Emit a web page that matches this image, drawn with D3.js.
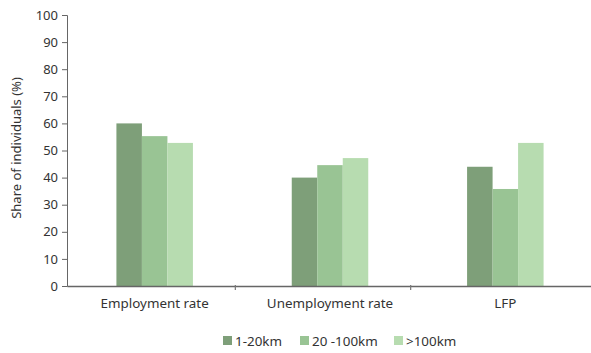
<!DOCTYPE html>
<html><head><meta charset="utf-8">
<script src="https://cdn.jsdelivr.net/npm/d3@7"></script>
<style>body{margin:0;background:#fff}text{font-family:"Source Sans Pro","Noto Sans","Open Sans",sans-serif;fill:#333}</style>
</head><body><svg id="c" width="591" height="353"></svg>
<script>
const categories = ["Employment rate", "Unemployment rate", "LFP"];
const seriesNames = ["1-20km", "20 -100km", ">100km"];
const near = [60, 40, 44];
const mid = [55.3, 44.6, 35.8];
const far = [52.8, 47.2, 52.8];
const yTicks = [0,10,20,30,40,50,60,70,80,90,100];
const colors = ["#7e9f79", "#99c494", "#b7dcb0"];
const series = [near, mid, far];

const svg = d3.select("#c");
const m = {l:67, r:-2, t:15, b:67};
const W = 591, H = 353;
const x = d3.scaleBand().domain(categories).range([m.l, W - m.r]);
const y = d3.scaleLinear().domain([0,100]).range([286, 15]);
const bw = 25.5;
const xs = d3.scaleBand().domain(seriesNames).range([-bw*1.5, bw*1.5]);

categories.forEach((c, i) => {
  series.forEach((s, j) => {
    svg.append("rect")
      .attr("x", x(c) + x.bandwidth()/2 + xs(seriesNames[j]))
      .attr("width", xs.bandwidth())
      .attr("y", y(s[i]))
      .attr("height", y(0) - y(s[i]))
      .attr("fill", colors[j]);
  });
});

const ya = svg.append("g").attr("transform", `translate(${m.l},0)`)
  .call(d3.axisLeft(y).tickValues(yTicks).tickSize(5).tickPadding(4));
ya.select(".domain").attr("stroke", "#666");
ya.selectAll(".tick line").attr("stroke", "#666");
ya.selectAll("text").style("font-size", "13px");

const xa = svg.append("g").attr("transform", `translate(0,${y(0)})`)
  .call(d3.axisBottom(x).tickSize(0).tickPadding(12));
xa.select(".domain").attr("stroke", "#666").attr("stroke-width", 1.5);
xa.selectAll("text").style("font-size", "13.4px");
categories.slice(1).forEach(c => {
  xa.append("line").attr("x1", x(c) - 7).attr("x2", x(c) - 7).attr("y1", -1).attr("y2", 4).attr("stroke", "#777").attr("stroke-width", 1.2);
});

svg.append("text").attr("transform", "translate(21,148) rotate(-90)")
  .attr("text-anchor", "middle").style("font-size", "13px").text("Share of individuals (%)");

const lx = [223, 300, 394];
seriesNames.forEach((n, j) => {
  svg.append("rect").attr("x", lx[j]).attr("y", 336).attr("width", 9).attr("height", 9).attr("fill", colors[j]);
  svg.append("text").attr("x", lx[j] + 12).attr("y", 345.5).style("font-size", "13.4px").text(n);
});
</script></body></html>
